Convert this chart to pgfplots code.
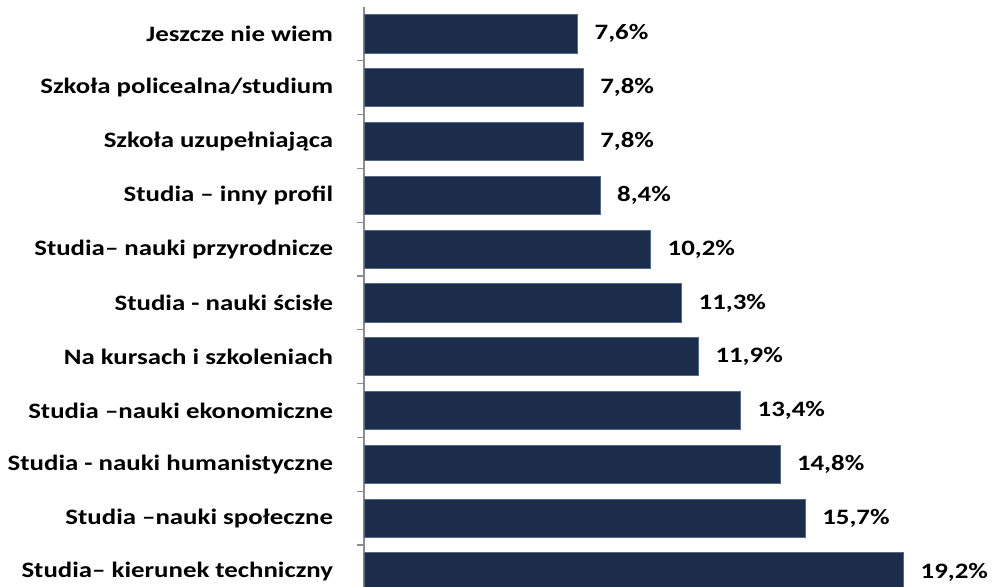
\documentclass[border=0pt]{standalone}
\usepackage{fontspec}
\setmainfont{Carlito}[FakeStretch=1.22]
\usepackage{pgfplots}
\pgfplotsset{compat=1.18}
\definecolor{barmid}{HTML}{1B2D4B}
\definecolor{baredge}{HTML}{56698A}
\definecolor{axgray}{HTML}{8C8C8C}
\begin{document}
\begin{tikzpicture}
\begin{axis}[
  scale only axis,
  width=471.75pt, height=435pt,
  xmin=0, xmax=22.38,
  ymin=-0.5, ymax=10.28,
  y dir=reverse,
  axis x line=none,
  axis y line*=left,
  y axis line style={axgray, line width=0.8pt},
  ytick={0,...,10},
  yticklabels={{Jeszcze nie wiem},{Szkoła policealna/studium},{Szkoła uzupełniająca},{Studia – inny profil},{Studia– nauki przyrodnicze},{Studia - nauki ścisłe},{Na kursach i szkoleniach},{Studia –nauki ekonomiczne},{Studia - nauki humanistyczne},{Studia –nauki społeczne},{Studia– kierunek techniczny}},
  major tick length=0pt,
  minor ytick={0.5,1.5,...,9.5},
  minor tick length=5.25pt,
  tick align=outside,
  minor tick style={axgray, line width=0.8pt},
  yticklabel style={font=\bfseries\fontsize{16.5}{19}\selectfont, inner sep=0pt, anchor=east, xshift=-23pt},
  /pgf/number format/assume math mode=true,
  xbar, bar width=0.71,
  point meta=x,
  nodes near coords={\pgfmathprintnumber[fixed,fixed zerofill,precision=1,use comma]{\pgfplotspointmeta}\%},
  every node near coord/.append style={font=\bfseries\fontsize{16.5}{19}\selectfont, anchor=west, inner sep=0pt, xshift=12.5pt, text=black},
]
\addplot[draw=baredge, line width=0.6pt, fill=barmid] table {
x y
7.6 0
7.8 1
7.8 2
8.4 3
10.2 4
11.3 5
11.9 6
13.4 7
14.8 8
15.7 9
19.2 10
};
\end{axis}
\pgfresetboundingbox
\path[use as bounding box] ([xshift=-273pt]current axis.south west) rectangle ([yshift=5.25pt]current axis.north east);
\end{tikzpicture}
\end{document}
